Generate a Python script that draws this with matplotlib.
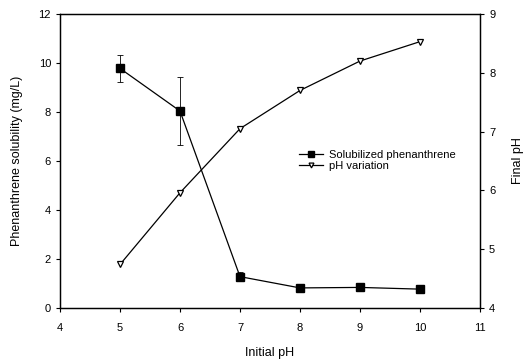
import numpy as np
import matplotlib
matplotlib.use('Agg')
import matplotlib.pyplot as plt

plt.rcParams['font.family'] = ['Liberation Sans', 'DejaVu Sans']

initial_ph = [5, 6, 7, 8, 9, 10]
solubility = [9.78, 8.04, 1.28, 0.82, 0.84, 0.77]
solubility_err = [0.56, 1.37, 0.18, 0.0, 0.0, 0.0]
final_ph = [4.74, 5.96, 7.05, 7.70, 8.20, 8.53]

fig = plt.figure(figsize=(5.26, 3.59), dpi=100)
ax = fig.add_axes([60/526, 1 - 308/359, 420/526, 294/359])
ax2 = ax.twinx()

l1 = ax.errorbar(initial_ph, solubility, yerr=solubility_err, color='black', lw=0.9,
                 marker='s', ms=5.5, mfc='black', mec='black',
                 ecolor='black', elinewidth=0.6, capsize=2.5, capthick=0.6,
                 label='Solubilized phenanthrene')
l2, = ax2.plot(initial_ph, final_ph, color='black', lw=0.9, marker='v', ms=5,
               mfc='white', mec='black', mew=0.9, label='pH variation')

ax.set_xlim(4, 11)
ax.set_ylim(0, 12)
ax2.set_ylim(4, 9)
ax.set_xticks(np.arange(4, 12, 1))
ax.set_yticks(np.arange(0, 13, 2))
ax2.set_yticks(np.arange(4, 10, 1))

for a in (ax, ax2):
    a.tick_params(direction='out', length=3, width=0.8, labelsize=8)
    for s in a.spines.values():
        s.set_linewidth(0.9)
ax.tick_params(axis='x', pad=8)

ax.set_xlabel('Initial pH', fontsize=9, labelpad=10)
ax.set_ylabel('Phenanthrene solubility (mg/L)', fontsize=9, labelpad=11)
ax2.set_ylabel('Final pH', fontsize=9, labelpad=12)

ax.legend([l1.lines[0], l2], ['Solubilized phenanthrene', 'pH variation'],
          loc='upper left', bbox_to_anchor=(0.55, 0.565), frameon=False,
          fontsize=8, handlelength=2.2, handletextpad=0.5, markerscale=0.7,
          labelspacing=0.15, borderpad=0.2)

plt.savefig('out.png', dpi=100)
